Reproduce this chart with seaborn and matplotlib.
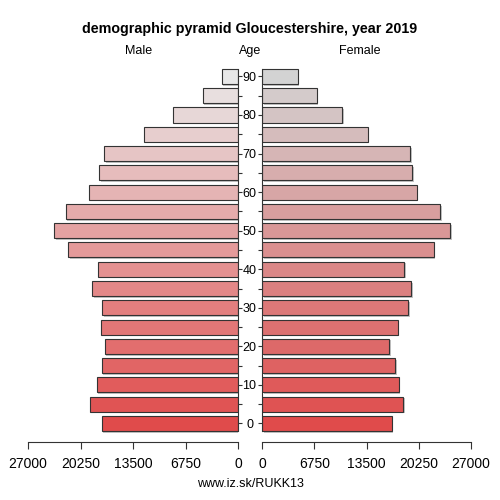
import matplotlib
matplotlib.use("Agg")
import matplotlib.pyplot as plt
import matplotlib.patheffects as pe
import numpy as np
import seaborn as sns

ages = ["0", "5", "10", "15", "20", "25", "30", "35", "40", "45",
        "50", "55", "60", "65", "70", "75", "80", "85", "90"]
male = [17530, 19030, 18170, 17530, 17140, 17610, 17440, 18730, 18040, 21860,
        23660, 22160, 19110, 17830, 17190, 12130, 8310, 4540, 2100]
female = [16760, 18260, 17660, 17180, 16450, 17530, 18860, 19290, 18390, 22180,
          24290, 23040, 19980, 19380, 19170, 13650, 10340, 7070, 4610]
x_ticks = [0, 6750, 13500, 20250, 27000]
x_max = 27000

sns.set_style("white")
plt.rcParams['font.family'] = ['Liberation Sans', 'DejaVu Sans']
plt.rcParams['text.color'] = 'black'
plt.rcParams['xtick.color'] = '#333333'
plt.rcParams['ytick.color'] = '#333333'
plt.rcParams['xtick.labelcolor'] = 'black'
plt.rcParams['ytick.labelcolor'] = 'black'


def _gradient(start, end, n):
    start = np.array(matplotlib.colors.to_rgb(start))
    end = np.array(matplotlib.colors.to_rgb(end))
    return [tuple(start + (end - start) * i / (n - 1)) for i in range(n)]


male_colors = dict(zip(ages, _gradient("#e04b4b", "#e8e8e8", len(ages))))
female_colors = dict(zip(ages, _gradient("#e04b4b", "#d3d3d3", len(ages))))
order = ages[::-1]

fig = plt.figure(figsize=(5, 5), dpi=100)
ax_m = fig.add_axes([0.056, 0.1338, 0.42, 0.7326])
ax_f = fig.add_axes([0.524, 0.1338, 0.418, 0.7326])

shadow = [pe.SimplePatchShadow(offset=(1.2, -1.2), shadow_rgbFace='#888888', alpha=0.5), pe.Normal()]

for ax, values, colors in [(ax_m, male, male_colors), (ax_f, female, female_colors)]:
    sns.barplot(x=values, y=ages, order=order, hue=ages, hue_order=order, palette=colors,
                legend=False, orient='h', width=0.78, edgecolor='#333333', linewidth=0.8,
                saturation=1, ax=ax)
    for patch in ax.patches:
        patch.set_path_effects(shadow)
    ax.set_ylim(18.5, -0.5)
    ax.set_xticks(x_ticks)
    ax.set_xticklabels([str(t) for t in x_ticks], fontsize=9)
    ax.set_xlabel('')
    ax.set_ylabel('')
    ax.set_yticks(range(len(order)))
    ax.spines['top'].set_visible(False)
    ax.spines['bottom'].set_position(('outward', 6.5))
    ax.spines['bottom'].set_bounds(0, x_max)
    ax.tick_params(axis='x', bottom=True, length=5, width=0.8, pad=6)
    for s in ax.spines.values():
        s.set_color('#333333')
        s.set_linewidth(0.8)
    ax.patch.set_alpha(0)

ax_m.set_xlim(x_max, 0)
ax_m.spines['left'].set_visible(False)
ax_m.spines['right'].set_bounds(18.4, -0.4)
ax_m.yaxis.tick_right()
ax_m.set_yticklabels([a if int(a) % 10 == 0 else '' for a in order], fontsize=9)
ax_m.tick_params(axis='y', right=True, left=False, length=3, width=0.8, pad=5.3)
for lbl in ax_m.get_yticklabels():
    lbl.set_horizontalalignment('center')

ax_f.set_xlim(0, x_max)
ax_f.spines['right'].set_visible(False)
ax_f.spines['left'].set_bounds(18.4, -0.4)
ax_f.set_yticklabels([])
ax_f.tick_params(axis='y', left=True, right=False, length=3, width=0.8)

fig.text(0.5, 0.942, 'demographic pyramid Gloucestershire, year 2019',
         ha='center', va='center', fontsize=10.3, fontweight='bold')
fig.text(0.278, 0.898, 'Male', ha='center', va='center', fontsize=9)
fig.text(0.5, 0.898, 'Age', ha='center', va='center', fontsize=9)
fig.text(0.72, 0.898, 'Female', ha='center', va='center', fontsize=9)
fig.text(0.5, 0.032, 'www.iz.sk/RUKK13', ha='center', va='center', fontsize=9)

fig.savefig('out.png', dpi=100)
